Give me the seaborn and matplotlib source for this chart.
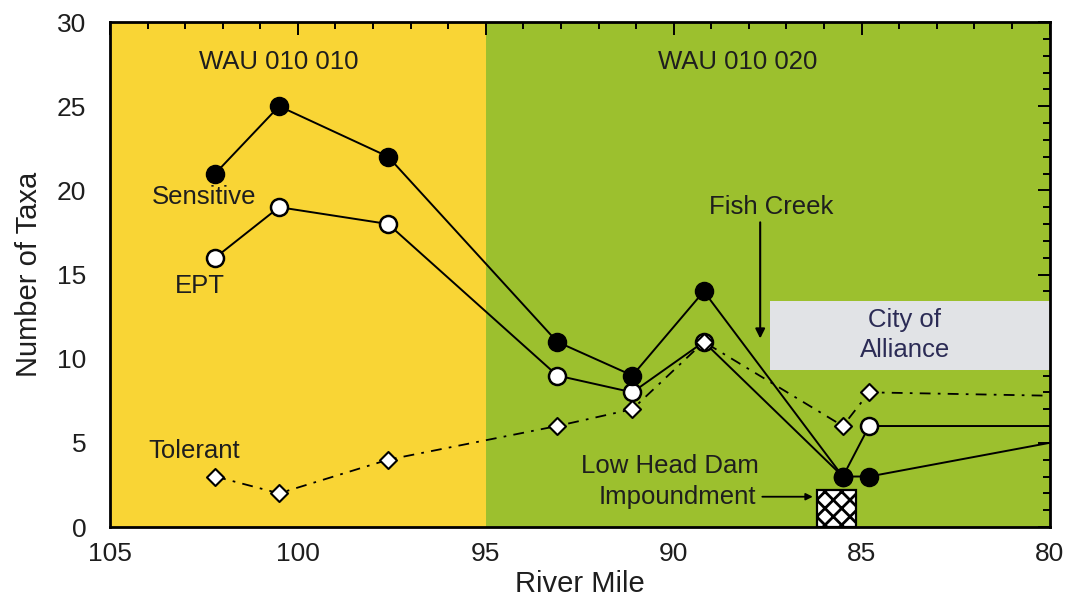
import matplotlib
matplotlib.use("Agg")
import matplotlib.pyplot as plt
from matplotlib.patches import Rectangle
from matplotlib.ticker import MultipleLocator
import seaborn as sns
import pandas as pd

# ---- data ----
river_mile = [102.2, 100.5, 97.6, 93.1, 91.1, 89.2, 85.5, 84.8]
sensitive = [21, 25, 22, 11, 9, 14, 3, 3]
ept = [16, 19, 18, 9, 8, 11, 3, 6]
tolerant = [3, 2, 4, 6, 7, 11, 6, 8]
# values where each line leaves the right edge of the chart (RM 80)
edge_mile = 80
sensitive_edge = 5
ept_edge = 6
tolerant_edge = 7.8

x_ticks = [105, 100, 95, 90, 85, 80]
y_ticks = [0, 5, 10, 15, 20, 25, 30]

sns.set_theme(style="white")
plt.rcParams['font.family'] = ['Liberation Sans', 'DejaVu Sans']
plt.rcParams['hatch.linewidth'] = 2.0

yellow = "#F9D535"
green = "#9CC02E"
txt = "#1e1e1e"
fs = 18.5

fig, ax = plt.subplots(figsize=(10.71, 6.03), dpi=100)
fig.subplots_adjust(left=0.1027, right=0.980, top=0.9635, bottom=0.126)

ax.axvspan(105, 95, color=yellow, zorder=0, lw=0)
ax.axvspan(95, 80, color=green, zorder=0, lw=0)

def frame(vals, edge):
    return pd.DataFrame({"mile": river_mile + [edge_mile], "taxa": vals + [edge]})

df_s = frame(sensitive, sensitive_edge)
df_e = frame(ept, ept_edge)
df_t = frame(tolerant, tolerant_edge)

sns.lineplot(data=df_t, x="mile", y="taxa", ax=ax, color="black", lw=1.3,
             sort=False, estimator=None, dashes=False, zorder=2,
             linestyle=(0, (6, 4, 1.5, 4)))
sns.lineplot(data=df_e, x="mile", y="taxa", ax=ax, color="black", lw=1.4,
             sort=False, estimator=None, zorder=2)
sns.lineplot(data=df_s, x="mile", y="taxa", ax=ax, color="black", lw=1.4,
             sort=False, estimator=None, zorder=2)

pts = pd.DataFrame({"mile": river_mile, "s": sensitive, "e": ept, "t": tolerant})
sns.scatterplot(data=pts, x="mile", y="e", ax=ax, marker="o", s=150,
                facecolor="white", edgecolor="black", linewidth=1.8, zorder=3)
sns.scatterplot(data=pts, x="mile", y="t", ax=ax, marker="D", s=75,
                facecolor="white", edgecolor="black", linewidth=1.5, zorder=4)
sns.scatterplot(data=pts, x="mile", y="s", ax=ax, marker="o", s=170,
                facecolor="black", edgecolor="black", linewidth=1.0, zorder=5)

# City of Alliance box
ax.add_patch(Rectangle((87.45, 9.3), 80 - 87.45, 4.1, facecolor="#E1E3E6",
                       edgecolor="none", zorder=1))
ax.text(83.85, 11.4, "City of\nAlliance", ha="center", va="center",
        fontsize=fs, color="#2b2b55", linespacing=1.3, zorder=6)

# Low head dam impoundment box
ax.add_patch(Rectangle((86.2, 0), -1.05, 2.2, facecolor="white",
                       edgecolor="black", hatch="xx", lw=1.6, zorder=5))

ax.text(90.1, 3.6, "Low Head Dam", ha="center", va="center", fontsize=fs, color=txt)
ax.annotate("Impoundment", xy=(86.3, 1.8), xytext=(89.9, 1.8), ha="center",
            va="center", fontsize=fs, color=txt,
            arrowprops=dict(arrowstyle="-|>", color="black", lw=1.3,
                            mutation_scale=10, shrinkA=2, shrinkB=0))

ax.text(87.4, 19.0, "Fish Creek", ha="center", va="center", fontsize=fs, color=txt)
ax.annotate("", xy=(87.7, 11.2), xytext=(87.7, 18.1),
            arrowprops=dict(arrowstyle="-|>", color="black", lw=1.5,
                            mutation_scale=14, shrinkA=0, shrinkB=0))

ax.text(100.5, 27.6, "WAU 010 010", ha="center", va="center", fontsize=fs, color=txt)
ax.text(88.3, 27.6, "WAU 010 020", ha="center", va="center", fontsize=fs, color=txt)
ax.text(102.5, 19.6, "Sensitive", ha="center", va="center", fontsize=fs, color=txt)
ax.text(102.6, 14.3, "EPT", ha="center", va="center", fontsize=fs, color=txt)
ax.text(102.75, 4.5, "Tolerant", ha="center", va="center", fontsize=fs, color=txt)

ax.set_xlim(105, 80)
ax.set_ylim(0, 30)
ax.set_xticks(x_ticks)
ax.set_yticks(y_ticks)
ax.xaxis.set_minor_locator(MultipleLocator(1))
ax.yaxis.set_minor_locator(MultipleLocator(1))
ax.tick_params(which="both", direction="in", top=True, right=True,
               color="black", width=1.4)
ax.tick_params(which="major", length=9, labelsize=19, labelcolor=txt)
ax.tick_params(which="minor", length=5)
ax.tick_params(axis="x", which="major", pad=11)
ax.tick_params(axis="y", which="major", pad=17)
ax.set_xlabel("River Mile", fontsize=21, color=txt, labelpad=3)
ax.set_ylabel("Number of Taxa", fontsize=21, color=txt, labelpad=10)
for sp in ax.spines.values():
    sp.set_color("black")
    sp.set_linewidth(2)
    sp.set_zorder(10)

fig.savefig("out.png", dpi=100, facecolor="white")
